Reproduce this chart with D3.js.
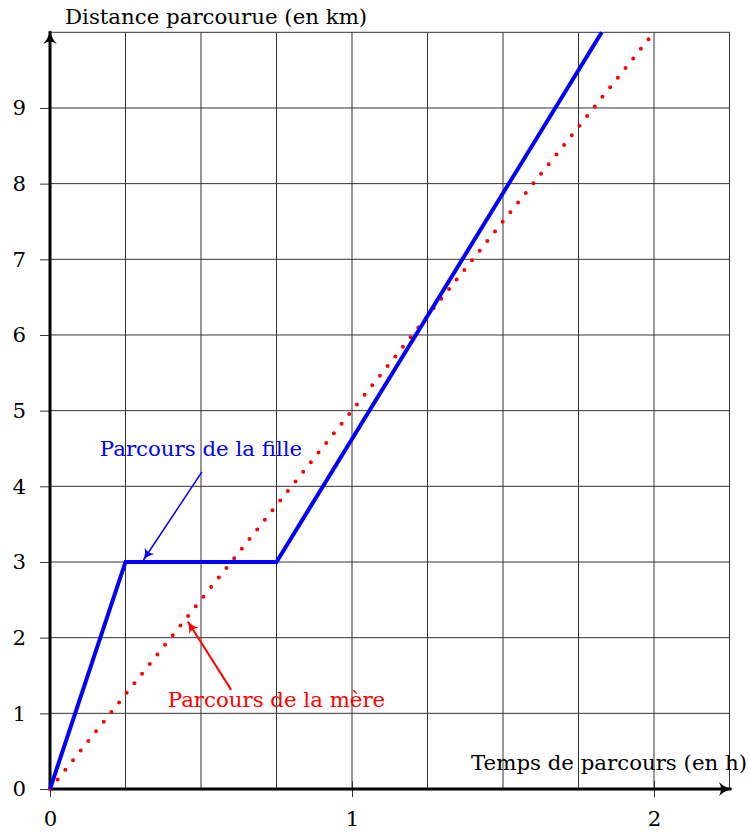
<!DOCTYPE html>
<html>
<head>
<meta charset="utf-8">
<script src="https://cdn.jsdelivr.net/npm/d3@7"></script>
<style>
  body { margin: 0; background: #fff; }
  svg text { font-family: "DejaVu Serif", serif; }
</style>
</head>
<body>
<script>
const width = 749;
const height = 832;

// data
const xGrid = [0, 0.25, 0.5, 0.75, 1, 1.25, 1.5, 1.75, 2, 2.25];
const yGrid = [0, 1, 2, 3, 4, 5, 6, 7, 8, 9, 10];
const xTicks = [0, 1, 2];
const yTicks = [0, 1, 2, 3, 4, 5, 6, 7, 8, 9];
const filleX = [0, 0.25, 0.75, 1.25, 1.827];
const filleY = [0, 3, 3, 6.25, 10];
const mereX = [0, 2];
const mereY = [0, 10];
const labels = ["Parcours de la fille", "Parcours de la mère"];
const labelX = [0.5, 0.75];
const labelY = [4.4, 1.08];
const arrowFrom = [[0.503, 4.19], [0.6, 1.31]];
const arrowTo = [[0.31, 3.03], [0.457, 2.21]];
const colors = ["#0000ff", "#ff0000"];

const fontSize = "21.3px";

const svg = d3.select("body").append("svg")
  .attr("width", width)
  .attr("height", height);

const x = d3.scaleLinear().domain([0, 2.25]).range([50, 729.5]);
const y = d3.scaleLinear().domain([0, 10]).range([789, 32.3]);

const defs = svg.append("defs");
function marker(id, color, w, h) {
  defs.append("marker")
    .attr("id", id)
    .attr("viewBox", "0 -5 10 10")
    .attr("refX", 9)
    .attr("refY", 0)
    .attr("markerWidth", w)
    .attr("markerHeight", h)
    .attr("markerUnits", "userSpaceOnUse")
    .attr("orient", "auto")
    .append("path")
    .attr("d", "M0,-5 Q4,-1 10,0 Q4,1 0,5 Q3,0 0,-5Z")
    .attr("fill", color);
}
marker("axisArrow", "#000", 16, 14);
marker("blueArrow", colors[0], 13, 12);
marker("redArrow", colors[1], 13, 12);

// grid
svg.append("g")
  .selectAll("line")
  .data(xGrid)
  .enter()
  .append("line")
  .attr("x1", (d) => x(d))
  .attr("x2", (d) => x(d))
  .attr("y1", y(0))
  .attr("y2", y(10))
  .attr("stroke", "#333")
  .attr("stroke-width", 1);

svg.append("g")
  .selectAll("line")
  .data(yGrid)
  .enter()
  .append("line")
  .attr("x1", x(0))
  .attr("x2", x(2.25))
  .attr("y1", (d) => y(d))
  .attr("y2", (d) => y(d))
  .attr("stroke", "#333")
  .attr("stroke-width", 1);

// axes
const xAxis = svg.append("g")
  .attr("transform", "translate(0," + y(0) + ")")
  .call(d3.axisBottom(x).tickValues(xTicks).tickSize(8).tickPadding(14).tickFormat(d3.format("d")));
xAxis.select(".domain").remove();
xAxis.selectAll("line").attr("stroke", "#333").attr("y1", -8);
xAxis.selectAll("text").attr("font-size", fontSize).attr("fill", "#000")
  .style("font-family", "DejaVu Serif, serif");

const yAxis = svg.append("g")
  .attr("transform", "translate(" + x(0) + ",0)")
  .call(d3.axisLeft(y).tickValues(yTicks).tickSize(10).tickPadding(14).tickFormat(d3.format("d")));
yAxis.select(".domain").remove();
yAxis.selectAll("line").attr("stroke", "#333");
yAxis.selectAll("text").attr("font-size", fontSize).attr("fill", "#000")
  .style("font-family", "DejaVu Serif, serif");

svg.append("line")
  .attr("x1", x(0)).attr("y1", y(0))
  .attr("x2", x(2.25) + 2).attr("y2", y(0))
  .attr("stroke", "#000").attr("stroke-width", 3)
  .attr("marker-end", "url(#axisArrow)");

svg.append("line")
  .attr("x1", x(0)).attr("y1", y(0))
  .attr("x2", x(0)).attr("y2", y(10) - 1)
  .attr("stroke", "#000").attr("stroke-width", 3)
  .attr("marker-end", "url(#axisArrow)");

svg.append("text")
  .attr("x", 65).attr("y", 24)
  .attr("font-size", fontSize)
  .text("Distance parcourue (en km)");

svg.append("text")
  .attr("x", 747).attr("y", 770)
  .attr("text-anchor", "end")
  .attr("font-size", fontSize)
  .text("Temps de parcours (en h)");

// curves
const line = d3.line().x((d) => x(d[0])).y((d) => y(d[1]));

svg.append("path")
  .datum(mereX.map((d, i) => [d, mereY[i]]))
  .attr("d", line)
  .attr("fill", "none")
  .attr("stroke", colors[1])
  .attr("stroke-width", 4)
  .attr("stroke-linecap", "round")
  .attr("stroke-dasharray", "0 12.3");

svg.append("path")
  .datum(filleX.map((d, i) => [d, filleY[i]]))
  .attr("d", line)
  .attr("fill", "none")
  .attr("stroke", colors[0])
  .attr("stroke-width", 4)
  .attr("stroke-linejoin", "miter");

// annotations
svg.append("g")
  .selectAll("line")
  .data(arrowFrom)
  .enter()
  .append("line")
  .attr("x1", (d) => x(d[0]))
  .attr("y1", (d) => y(d[1]))
  .attr("x2", (d, i) => x(arrowTo[i][0]))
  .attr("y2", (d, i) => y(arrowTo[i][1]))
  .attr("stroke", (d, i) => colors[i])
  .attr("stroke-width", (d, i) => (i === 0 ? 1.5 : 2))
  .attr("marker-end", (d, i) => (i === 0 ? "url(#blueArrow)" : "url(#redArrow)"));

svg.append("g")
  .selectAll("text")
  .data(labels)
  .enter()
  .append("text")
  .attr("x", (d, i) => x(labelX[i]))
  .attr("y", (d, i) => y(labelY[i]))
  .attr("text-anchor", "middle")
  .attr("font-size", fontSize)
  .attr("fill", (d, i) => colors[i])
  .text((d) => d);
</script>
</body>
</html>
